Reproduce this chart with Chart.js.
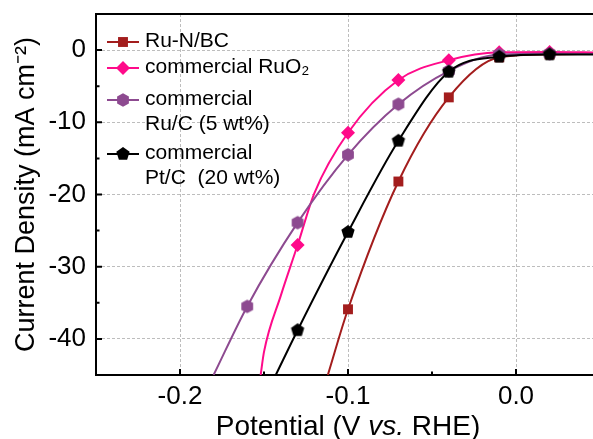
<!DOCTYPE html>
<html>
<head>
<meta charset="utf-8">
<script src="https://cdn.jsdelivr.net/npm/chart.js"></script>
<style>
  html, body { margin: 0; padding: 0; background: #fff; overflow: hidden; }
  #wrap { width: 593px; height: 439px; overflow: hidden; }
</style>
</head>
<body>
<div id="wrap"><canvas id="lsvChart" width="600" height="439"></canvas></div>
<script>
// potential (V vs. RHE) and current density (mA cm-2)
const ruNbcV = [-0.112, -0.10, -0.07, -0.04, -0.01, 0.02, 0.05];
const ruNbcJ = [-45, -35.9, -18.2, -6.55, -1.0, -0.6, -0.5];
const ruNbcMarks = [-0.10, -0.07, -0.04, -0.01, 0.02];

const ruo2V = [-0.152, -0.15, -0.14, -0.13, -0.12, -0.10, -0.07, -0.04, -0.01, 0.02, 0.05];
const ruo2J = [-45, -41.8, -34, -27, -19.8, -11.45, -4.15, -1.4, -0.3, -0.25, -0.35];
const ruo2Marks = [-0.13, -0.10, -0.07, -0.04, -0.01, 0.02];

const rucV = [-0.18, -0.16, -0.13, -0.10, -0.07, -0.04, -0.01, 0.02, 0.05];
const rucJ = [-45, -35.5, -23.9, -14.5, -7.5, -2.9, -0.6, -0.5, -0.55];
const rucMarks = [-0.16, -0.13, -0.10, -0.07, -0.04, -0.01, 0.02];

const ptcV = [-0.143, -0.13, -0.10, -0.07, -0.04, -0.01, 0.02, 0.05];
const ptcJ = [-45, -38.8, -25.2, -12.56, -3.0, -0.92, -0.6, -0.6];
const ptcMarks = [-0.13, -0.10, -0.07, -0.04, -0.01, 0.02];

const xTicks = [-0.2, -0.1, 0.0];
const xMinor = [-0.15, -0.05];
const yTicks = [-40, -30, -20, -10, 0];
const yMinor = [-35, -25, -15, -5];

const FONT = '"Liberation Sans", Arial, sans-serif';
const RED = '#a31d1d', PINK = '#ff0a8a', PURPLE = '#8d4a90', BLACK = '#000000';

function polygonMarker(sides, r, color) {
    const c = document.createElement('canvas');
    const s = Math.ceil(2 * r + 2);
    c.width = s; c.height = s;
    const g = c.getContext('2d');
    g.fillStyle = color;
    g.beginPath();
    for (let i = 0; i < sides; i++) {
        const a = -Math.PI / 2 + i * 2 * Math.PI / sides;
        const px = s / 2 + r * Math.cos(a), py = s / 2 + r * Math.sin(a);
        if (i) g.lineTo(px, py); else g.moveTo(px, py);
    }
    g.closePath();
    g.fill();
    return c;
}

const hexagon = polygonMarker(6, 6.8, PURPLE);
const pentagon = polygonMarker(5, 7, BLACK);

function series(label, V, J, marks, color, style, radius, order) {
    return {
        label: label,
        data: V.map((v, i) => ({ x: v, y: J[i] })),
        borderColor: color,
        backgroundColor: color,
        borderWidth: 2,
        pointStyle: style,
        pointRadius: ctx => marks.includes(V[ctx.dataIndex]) ? radius : 0,
        pointHoverRadius: 0,
        pointBorderWidth: 0,
        cubicInterpolationMode: 'monotone',
        order: order
    };
}

// legend rows: marker y, text lines
const legendItems = [
    { color: RED, style: 'rect', radius: 7, y: 42, lines: ['Ru-N/BC'] },
    { color: PINK, style: 'rectRot', radius: 7, y: 68, lines: ['commercial RuO\u2082'] },
    { color: PURPLE, style: hexagon, radius: 7, y: 100, lines: ['commercial', 'Ru/C (5 wt%)'] },
    { color: BLACK, style: pentagon, radius: 7, y: 154, lines: ['commercial', 'Pt/C  (20 wt%)'] }
];

const framePlugin = {
    id: 'frame',
    afterDraw(chart) {
        const ctx = chart.ctx;
        const a = chart.chartArea;
        const xs = chart.scales.x, ys = chart.scales.y;
        ctx.save();
        ctx.strokeStyle = '#000';
        ctx.lineWidth = 2;
        // top border
        ctx.beginPath();
        ctx.moveTo(a.left - 1, a.top);
        ctx.lineTo(chart.width, a.top);
        ctx.stroke();
        // inward ticks
        ctx.beginPath();
        xTicks.forEach(v => { const p = xs.getPixelForValue(v); ctx.moveTo(p, a.bottom); ctx.lineTo(p, a.bottom - 6); });
        xMinor.forEach(v => { const p = xs.getPixelForValue(v); ctx.moveTo(p, a.bottom); ctx.lineTo(p, a.bottom - 3.5); });
        yTicks.forEach(v => { const p = ys.getPixelForValue(v); ctx.moveTo(a.left, p); ctx.lineTo(a.left + 6, p); });
        yMinor.forEach(v => { const p = ys.getPixelForValue(v); ctx.moveTo(a.left, p); ctx.lineTo(a.left + 3.5, p); });
        ctx.stroke();

        // x axis title with italic "vs."
        const parts = [['Potential (V ', ''], ['vs.', 'italic '], [' RHE)', '']];
        const size = 28;
        let total = 0;
        parts.forEach(p => { ctx.font = p[1] + size + 'px ' + FONT; total += ctx.measureText(p[0]).width; });
        let tx = (a.left + a.right) / 2 - total / 2;
        ctx.fillStyle = '#000';
        ctx.textBaseline = 'alphabetic';
        ctx.textAlign = 'left';
        parts.forEach(p => {
            ctx.font = p[1] + size + 'px ' + FONT;
            ctx.fillText(p[0], tx, 435);
            tx += ctx.measureText(p[0]).width;
        });

        // legend
        legendItems.forEach(it => {
            ctx.strokeStyle = it.color;
            ctx.lineWidth = 2;
            ctx.beginPath();
            ctx.moveTo(107, it.y);
            ctx.lineTo(139, it.y);
            ctx.stroke();
            ctx.fillStyle = it.color;
            Chart.helpers.drawPoint(ctx, { pointStyle: it.style, rotation: 0, radius: it.radius, borderWidth: 0 }, 123, it.y);
            ctx.fillStyle = '#000';
            ctx.font = '21px ' + FONT;
            ctx.textBaseline = 'middle';
            it.lines.forEach((t, k) => ctx.fillText(t, 145, it.y - 1 + k * 25));
        });
        ctx.restore();
    }
};

new Chart(document.getElementById('lsvChart'), {
    type: 'line',
    data: {
        datasets: [
            series('Ru-N/BC', ruNbcV, ruNbcJ, ruNbcMarks, RED, 'rect', 7, 4),
            series('commercial RuO\u2082', ruo2V, ruo2J, ruo2Marks, PINK, 'rectRot', 7, 3),
            series('commercial Ru/C (5 wt%)', rucV, rucJ, rucMarks, PURPLE, hexagon, 7, 2),
            series('commercial Pt/C (20 wt%)', ptcV, ptcJ, ptcMarks, BLACK, pentagon, 7, 1)
        ]
    },
    options: {
        responsive: false,
        animation: false,
        layout: { padding: { top: 14, right: 0, bottom: 0, left: 0 } },
        plugins: { legend: { display: false }, tooltip: { enabled: false } },
        scales: {
            x: {
                type: 'linear',
                min: -0.25,
                max: 0.05,
                afterBuildTicks: s => { s.ticks = xTicks.map(v => ({ value: v })); },
                afterFit: s => { s.height = 64; s.paddingLeft = 0; s.paddingRight = 0; },
                ticks: {
                    color: '#000',
                    padding: 6,
                    font: { family: FONT, size: 26 },
                    callback: v => v.toFixed(1)
                },
                grid: { color: '#bdbdbd', lineWidth: 1, drawTicks: false },
                border: { display: true, color: '#000', width: 2, dash: [3, 2] }
            },
            y: {
                type: 'linear',
                min: -45,
                max: 5,
                afterBuildTicks: s => { s.ticks = yTicks.map(v => ({ value: v })); },
                afterFit: s => { s.width = 96; s.paddingTop = 0; s.paddingBottom = 0; },
                ticks: {
                    color: '#000',
                    padding: 10,
                    font: { family: FONT, size: 26 },
                    callback: v => String(v)
                },
                grid: { color: '#bdbdbd', lineWidth: 1, drawTicks: false },
                border: { display: true, color: '#000', width: 2, dash: [3, 2] },
                title: {
                    display: true,
                    text: 'Current Density (mA cm\u207B\u00B2)',
                    color: '#000',
                    padding: { top: 10, bottom: 0 },
                    font: { family: FONT, size: 27, lineHeight: 1.2 }
                }
            }
        }
    },
    plugins: [framePlugin]
});
</script>
</body>
</html>
